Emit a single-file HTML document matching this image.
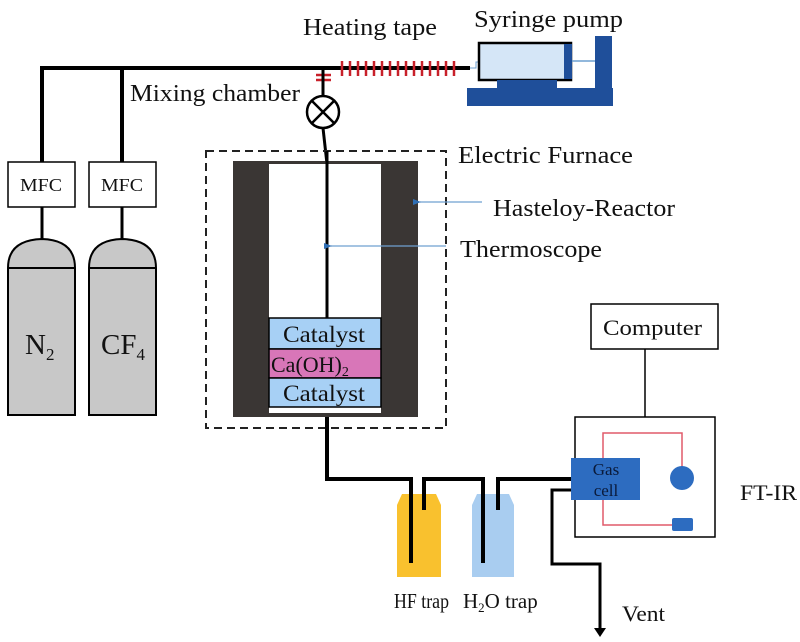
<!DOCTYPE html>
<html><head><style>
html,body{margin:0;padding:0;background:#fff;}
svg{display:block;}
text{font-family:"Liberation Serif",serif;fill:#111;}
</style></head><body>
<svg width="800" height="642" viewBox="0 0 800 642" xmlns="http://www.w3.org/2000/svg">
<defs>
<marker id="ab" markerWidth="8" markerHeight="8" refX="1" refY="4" orient="auto" markerUnits="userSpaceOnUse"><path d="M8,1 L0,4 L8,7 Z" fill="#2f6fb5"/></marker>
</defs>
<path d="M42,162 V68 H470" stroke="#000" stroke-width="4" fill="none"/>
<path d="M122,162 V68" stroke="#000" stroke-width="4"/>
<g stroke="#c8202a" stroke-width="2.5">
<line x1="342" y1="61" x2="342" y2="76"/><line x1="350" y1="61" x2="350" y2="76"/><line x1="358" y1="61" x2="358" y2="76"/><line x1="366" y1="61" x2="366" y2="76"/><line x1="374" y1="61" x2="374" y2="76"/><line x1="382" y1="61" x2="382" y2="76"/><line x1="390" y1="61" x2="390" y2="76"/><line x1="398" y1="61" x2="398" y2="76"/><line x1="406" y1="61" x2="406" y2="76"/><line x1="414" y1="61" x2="414" y2="76"/><line x1="422" y1="61" x2="422" y2="76"/><line x1="430" y1="61" x2="430" y2="76"/><line x1="438" y1="61" x2="438" y2="76"/><line x1="446" y1="61" x2="446" y2="76"/><line x1="454" y1="61" x2="454" y2="76"/>
<line x1="316" y1="75" x2="331" y2="75"/><line x1="316" y1="80" x2="331" y2="80"/>
</g>
<line x1="323" y1="68" x2="323" y2="97" stroke="#000" stroke-width="3"/>
<circle cx="323" cy="112" r="16" fill="#fff" stroke="#000" stroke-width="2.5"/>
<path d="M312,101 L334,123 M334,101 L312,123" stroke="#000" stroke-width="2.5"/>
<line x1="323" y1="128" x2="327" y2="164" stroke="#000" stroke-width="3"/>
<path d="M470,68 H476 V62 H479" stroke="#6fa0d0" stroke-width="1" fill="none"/>
<rect x="479" y="43" width="92" height="37" fill="#d5e6f7" stroke="#000" stroke-width="2.5"/>
<rect x="564" y="44" width="8" height="35" fill="#1f4f9a"/>
<line x1="572" y1="61" x2="596" y2="61" stroke="#6fa0d0" stroke-width="1.5"/>
<rect x="595" y="36" width="17" height="52" fill="#1f4f9a"/>
<rect x="497" y="80" width="60" height="9" fill="#1f4f9a"/>
<rect x="467" y="88" width="146" height="18" fill="#1f4f9a"/>
<text x="474" y="27" font-size="24" textLength="149" lengthAdjust="spacingAndGlyphs">Syringe pump</text>
<text x="303" y="35" font-size="24" textLength="134" lengthAdjust="spacingAndGlyphs">Heating tape</text>
<text x="130" y="101" font-size="24" textLength="170" lengthAdjust="spacingAndGlyphs">Mixing chamber</text>
<rect x="8" y="162" width="67" height="45" fill="#fff" stroke="#000" stroke-width="1.5"/>
<rect x="89" y="162" width="67" height="45" fill="#fff" stroke="#000" stroke-width="1.5"/>
<text x="20" y="191" font-size="18" textLength="42" lengthAdjust="spacingAndGlyphs">MFC</text>
<text x="101" y="191" font-size="18" textLength="42" lengthAdjust="spacingAndGlyphs">MFC</text>
<line x1="42" y1="207" x2="42" y2="240" stroke="#000" stroke-width="3"/>
<line x1="122" y1="207" x2="122" y2="240" stroke="#000" stroke-width="3"/>
<path d="M8,268 Q8,240 42,239 Q75,240 75,268 V415 H8 Z" fill="#c8c8c8" stroke="#000" stroke-width="2"/>
<path d="M89,268 Q89,240 122,239 Q156,240 156,268 V415 H89 Z" fill="#c8c8c8" stroke="#000" stroke-width="2"/>
<line x1="8" y1="268" x2="75" y2="268" stroke="#000" stroke-width="2"/>
<line x1="89" y1="268" x2="156" y2="268" stroke="#000" stroke-width="2"/>
<text x="25" y="354" font-size="29">N<tspan font-size="17" dy="6">2</tspan></text>
<text x="101" y="354" font-size="29">CF<tspan font-size="17" dy="6">4</tspan></text>
<rect x="206" y="151" width="240" height="277" fill="none" stroke="#222" stroke-width="2" stroke-dasharray="8,5"/>
<rect x="233" y="161" width="185" height="256" fill="#3a3634"/>
<rect x="269" y="164" width="112" height="249" fill="#fff"/>
<line x1="327" y1="151" x2="327" y2="318" stroke="#000" stroke-width="3"/>
<rect x="269" y="318" width="112" height="31" fill="#a7d0f5" stroke="#000" stroke-width="1.5"/>
<rect x="269" y="349" width="112" height="29" fill="#d876b8" stroke="#000" stroke-width="1.5"/>
<rect x="269" y="378" width="112" height="29" fill="#a7d0f5" stroke="#000" stroke-width="1.5"/>
<text x="283" y="342" font-size="23" textLength="82" lengthAdjust="spacingAndGlyphs">Catalyst</text>
<text x="271" y="372" font-size="22">Ca(OH)<tspan font-size="14" dy="4">2</tspan></text>
<text x="283" y="401" font-size="23" textLength="82" lengthAdjust="spacingAndGlyphs">Catalyst</text>
<line x1="482" y1="202" x2="420" y2="202" stroke="#6fa0d0" stroke-width="1.2" marker-end="url(#ab)"/>
<line x1="446" y1="246" x2="331" y2="246" stroke="#6fa0d0" stroke-width="1.2" marker-end="url(#ab)"/>
<text x="458" y="163" font-size="24" textLength="175" lengthAdjust="spacingAndGlyphs">Electric Furnace</text>
<text x="493" y="216" font-size="24" textLength="182" lengthAdjust="spacingAndGlyphs">Hasteloy-Reactor</text>
<text x="460" y="257" font-size="24" textLength="142" lengthAdjust="spacingAndGlyphs">Thermoscope</text>
<path d="M402,494 H436 L441,505 V577 H397 V505 Z" fill="#f9c12e"/>
<path d="M477,494 H509 L514,505 V577 H472 V505 Z" fill="#a9cdf0"/>
<path d="M327,417 V479 H411 V563" stroke="#000" stroke-width="4" fill="none"/>
<path d="M424,510 V479 H483 V563" stroke="#000" stroke-width="4" fill="none"/>
<path d="M498,510 V479 H572" stroke="#000" stroke-width="4" fill="none"/>
<path d="M572,490 H552 V564 H600 V630" stroke="#000" stroke-width="3" fill="none"/>
<path d="M594,628 L606,628 L600,637 Z" fill="#000"/>
<text x="394" y="608" font-size="21" textLength="55" lengthAdjust="spacingAndGlyphs">HF trap</text>
<text x="463" y="608" font-size="21">H<tspan font-size="13" dy="4">2</tspan><tspan dy="-4">O trap</tspan></text>
<text x="622" y="621" font-size="22" textLength="43" lengthAdjust="spacingAndGlyphs">Vent</text>
<rect x="591" y="304" width="127" height="45" fill="#fff" stroke="#000" stroke-width="1.5"/>
<text x="603" y="335" font-size="22" textLength="99" lengthAdjust="spacingAndGlyphs">Computer</text>
<line x1="645" y1="349" x2="645" y2="417" stroke="#000" stroke-width="1.5"/>
<rect x="575" y="417" width="140" height="120" fill="#fff" stroke="#000" stroke-width="1.5"/>
<path d="M603,458 V433 H682 V468 M603,500 V525 H672" stroke="#e05a6a" stroke-width="1.5" fill="none"/>
<circle cx="682" cy="478" r="12" fill="#2d6cc0"/>
<rect x="672" y="518" width="21" height="13" rx="2" fill="#2d6cc0"/>
<rect x="571" y="458" width="69" height="42" fill="#2d6cc0"/>
<text x="606" y="475" font-size="17" text-anchor="middle" style="fill:#0a1a3a">Gas</text>
<text x="606" y="496" font-size="17" text-anchor="middle" style="fill:#0a1a3a">cell</text>
<text x="740" y="500" font-size="22" textLength="57" lengthAdjust="spacingAndGlyphs">FT-IR</text>
</svg>
</body></html>
